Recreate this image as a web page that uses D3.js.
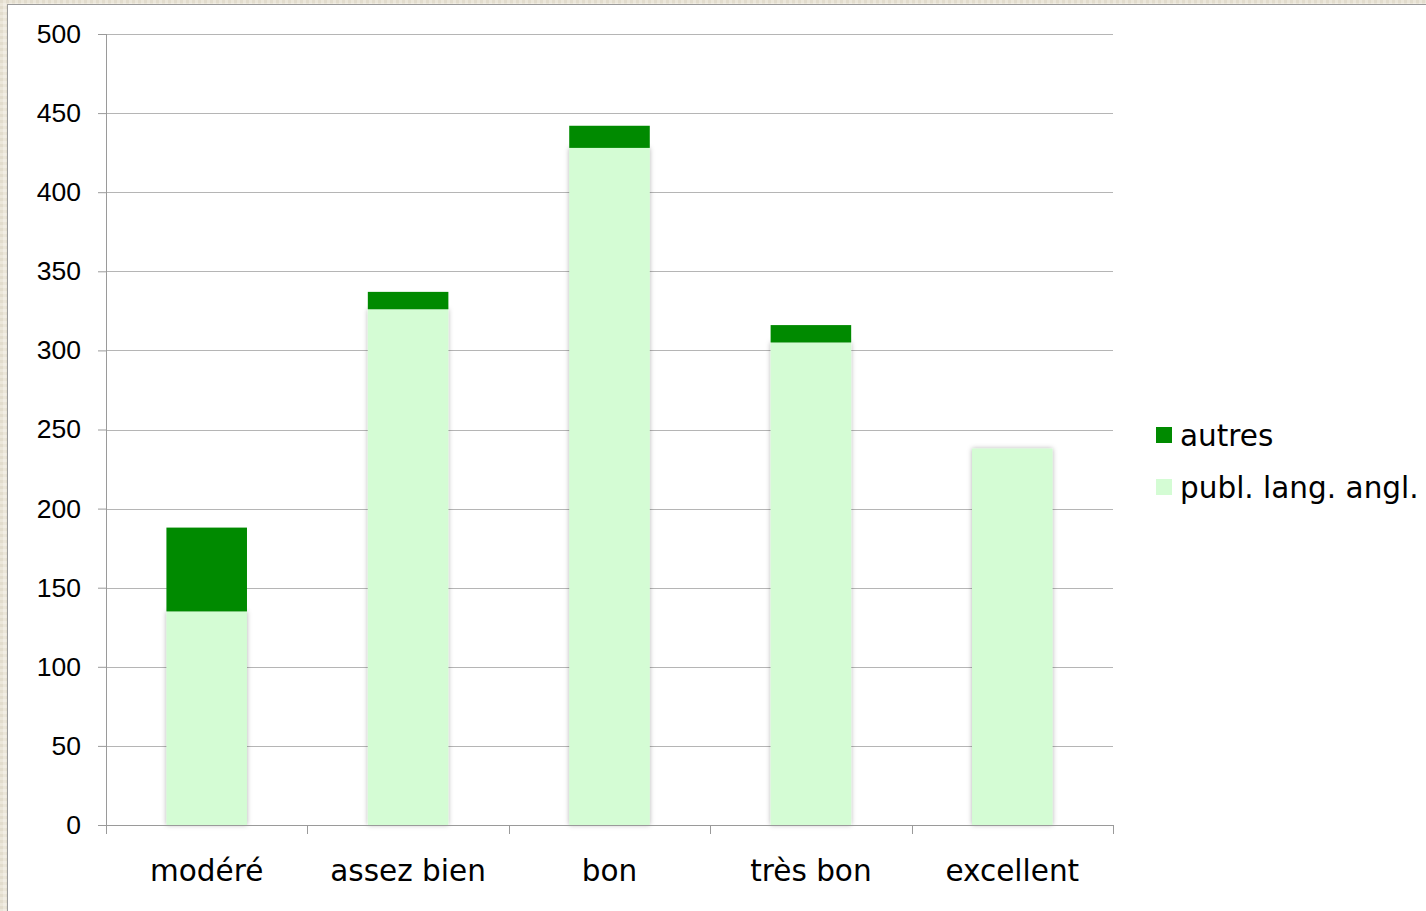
<!DOCTYPE html>
<html>
<head>
<meta charset="utf-8">
<script src="https://cdn.jsdelivr.net/npm/d3@7"></script>
<style>
  html, body { margin: 0; padding: 0; background: #ebe6d9; }
  svg { display: block; }
</style>
</head>
<body>
<div class="chart"></div>
<script>
var categories = ["modéré", "assez bien", "bon", "très bon", "excellent"];
var anglais = [135, 326, 428, 305, 238];
var autres = [53, 11, 14, 11, 0];
var yTicks = [0, 50, 100, 150, 200, 250, 300, 350, 400, 450, 500];
var seriesNames = ["autres", "publ. lang. angl."];
var colors = { autres: "#008a00", anglais: "#d4fcd4" };

var w = 1426, h = 911;
var margin = { top: 34, left: 106, right: 313, bottom: 86 };
var width = w - margin.left - margin.right;
var height = h - margin.top - margin.bottom;

var svg = d3.select(".chart").append("svg").attr("width", w).attr("height", h);

// paper-like border
var defs = svg.append("defs");
var pat = defs.append("pattern").attr("id", "paper")
  .attr("width", 6).attr("height", 6).attr("patternUnits", "userSpaceOnUse");
pat.append("rect").attr("width", 6).attr("height", 6).attr("fill", "#ebe6d9");
pat.append("rect").attr("x", 0).attr("y", 0).attr("width", 3).attr("height", 3).attr("fill", "#e2dccd");
pat.append("rect").attr("x", 3).attr("y", 3).attr("width", 3).attr("height", 3).attr("fill", "#f1ede4");

var shadow = defs.append("filter").attr("id", "shadow")
  .attr("x", "-20%").attr("y", "-5%").attr("width", "140%").attr("height", "110%");
shadow.append("feDropShadow").attr("dx", 0).attr("dy", 0)
  .attr("stdDeviation", 2.5).attr("flood-color", "#000").attr("flood-opacity", 0.3);

svg.append("rect").attr("width", w).attr("height", h).attr("fill", "url(#paper)");
svg.append("rect").attr("x", 7.5).attr("y", 4.5).attr("width", w).attr("height", h)
  .attr("fill", "#fff").attr("stroke", "#9a9a9a").attr("stroke-width", 1);

var chart = svg.append("g")
  .attr("transform", "translate(" + margin.left + "," + margin.top + ")");

var xScale = d3.scaleBand().domain(categories).range([0, width]).paddingInner(0.6).paddingOuter(0.3);
var xBand = d3.scaleBand().domain(categories).range([0, width]);
var yScale = d3.scaleLinear().domain([0, 500]).range([height, 0]);

// grid
chart.selectAll(".grid").data(yTicks.filter(function(d) { return d > 0; }))
  .enter().append("line")
  .attr("class", "grid")
  .attr("x1", 0).attr("x2", width)
  .attr("y1", function(d) { return Math.round(yScale(d)) + 0.5; })
  .attr("y2", function(d) { return Math.round(yScale(d)) + 0.5; })
  .attr("stroke", "#b5b5b5").attr("stroke-width", 1);

// y axis
var yAxis = d3.axisLeft(yScale).tickValues(yTicks).tickSize(8).tickPadding(17);
var yg = chart.append("g").attr("class", "y axis").call(yAxis);
yg.select(".domain").attr("stroke", "#9a9a9a").attr("d", "M0.5," + height + "V0");
yg.selectAll(".tick line").attr("stroke", "#9a9a9a");
yg.selectAll("text").attr("font-family", "'Liberation Sans', Arial, sans-serif")
  .attr("font-size", 26.5).attr("fill", "#000");

// bars
var data = categories.map(function(c, i) {
  return { cat: c, angl: anglais[i], autres: autres[i] };
});

chart.selectAll(".bar-angl").data(data).enter().append("rect")
  .attr("class", "bar-angl")
  .attr("x", function(d) { return xScale(d.cat); })
  .attr("width", xScale.bandwidth())
  .attr("y", function(d) { return yScale(d.angl); })
  .attr("height", function(d) { return height - yScale(d.angl); })
  .attr("fill", colors.anglais)
  .attr("filter", "url(#shadow)");

chart.selectAll(".bar-autres").data(data.filter(function(d) { return d.autres > 0; }))
  .enter().append("rect")
  .attr("class", "bar-autres")
  .attr("x", function(d) { return xScale(d.cat); })
  .attr("width", xScale.bandwidth())
  .attr("y", function(d) { return yScale(d.angl + d.autres); })
  .attr("height", function(d) { return yScale(d.angl) - yScale(d.angl + d.autres); })
  .attr("fill", colors.autres);

// x axis
var xg = chart.append("g").attr("class", "x axis")
  .attr("transform", "translate(0," + height + ")");
xg.append("line").attr("x1", 0).attr("x2", width).attr("y1", 0.5).attr("y2", 0.5)
  .attr("stroke", "#9a9a9a");
var bounds = categories.map(function(c) { return xBand(c); }).concat([width]);
xg.selectAll(".xtick").data(bounds).enter().append("line")
  .attr("x1", function(d) { return Math.round(d) + 0.5; })
  .attr("x2", function(d) { return Math.round(d) + 0.5; })
  .attr("y1", 0).attr("y2", 9)
  .attr("stroke", "#9a9a9a");
xg.selectAll(".xlabel").data(categories).enter().append("text")
  .attr("x", function(d) { return xBand(d) + xBand.bandwidth() / 2; })
  .attr("y", 56)
  .attr("text-anchor", "middle")
  .attr("font-family", "'DejaVu Sans', Verdana, sans-serif")
  .attr("font-size", 29.5)
  .attr("fill", "#000")
  .text(function(d) { return d; });

// legend
var legend = svg.append("g").attr("transform", "translate(1156,427)");
var legendColors = [colors.autres, colors.anglais];
var items = legend.selectAll(".item").data(seriesNames).enter().append("g")
  .attr("transform", function(d, i) { return "translate(0," + (i * 52) + ")"; });
items.append("rect").attr("width", 16).attr("height", 16)
  .attr("fill", function(d, i) { return legendColors[i]; });
items.append("text").attr("x", 24).attr("y", 19)
  .attr("font-family", "'DejaVu Sans', Verdana, sans-serif")
  .attr("font-size", 29.5).attr("fill", "#000")
  .text(function(d) { return d; });
</script>
</body>
</html>
